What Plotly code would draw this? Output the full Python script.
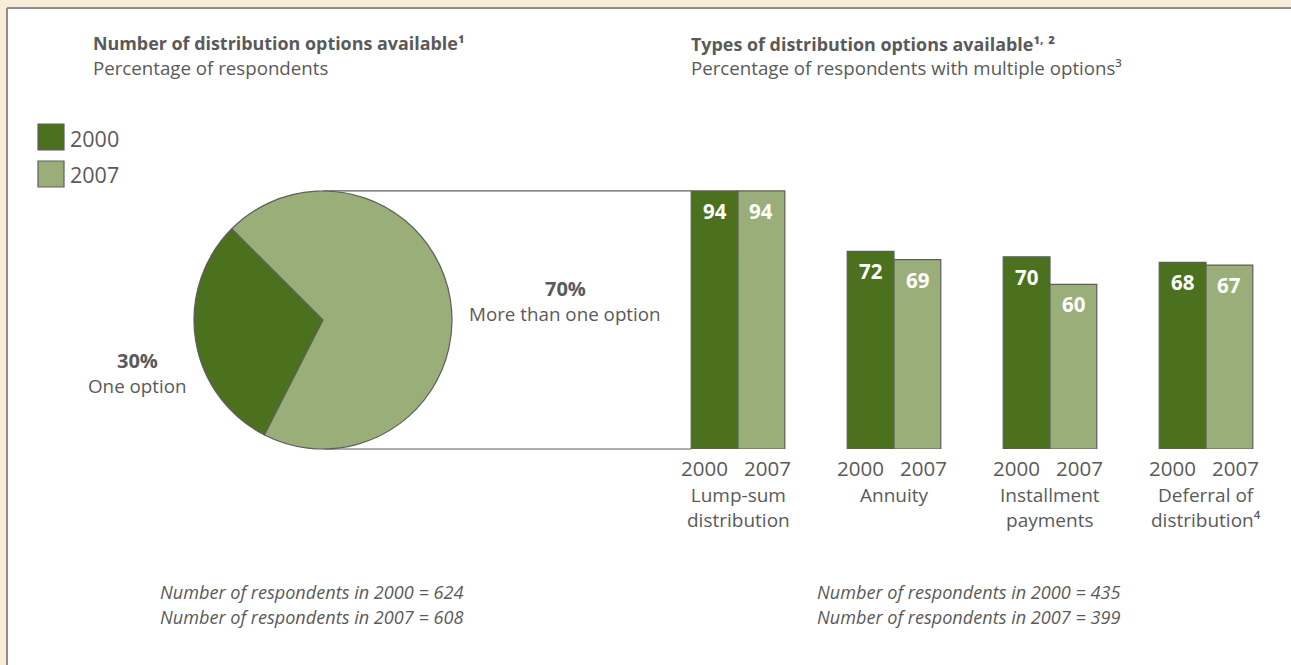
import plotly.graph_objects as go

# ---- data -------------------------------------------------------------
pie_labels = ["One option", "More than one option"]
pie_values = [30, 70]

categories = ["Lump-sum<br>distribution", "Annuity", "Installment<br>payments",
              "Deferral of<br>distribution⁴"]
years = ["2000", "2007"]
share_2000 = [94, 72, 70, 68]
share_2007 = [94, 69, 60, 67]

left_counts = [624, 608]
right_counts = [435, 399]

# ---- style ------------------------------------------------------------
W, H = 1291, 665
DARK = "#4b711f"
LIGHT = "#9aae7a"
EDGE = "#5e5e5e"
TEXT = "#5a5a5a"
BEIGE = "#f7ecd6"
FONT = "Open Sans"

def px(x):
    return x / W

def py(y):
    return 1 - y / H

BARGAP = 0.4
half_w = (1 - BARGAP) / 2  # width of a single bar in category units

# Bar axis geometry (paper fractions)
bar_x_domain = [px(660), px(1284)]
bar_y_domain = [py(449), py(174.5)]
y_max = 100

# Pie geometry
pie_x_domain = [px(194), px(452)]
pie_y_domain = [py(449), py(191)]

fig = go.Figure()

fig.add_trace(go.Pie(
    labels=pie_labels, values=pie_values, sort=False,
    direction="clockwise", rotation=-153,
    marker=dict(colors=[DARK, LIGHT], line=dict(color=EDGE, width=1.2)),
    textinfo="none", hoverinfo="label+percent",
    domain=dict(x=pie_x_domain, y=pie_y_domain), showlegend=False,
))

x_idx = list(range(len(categories)))
for name, vals, col in [(years[0], share_2000, DARK), (years[1], share_2007, LIGHT)]:
    fig.add_trace(go.Bar(
        x=x_idx, y=vals, name=name, marker=dict(color=col, line=dict(color=EDGE, width=1.2)),
        showlegend=False, hovertemplate="%{y}<extra>" + name + "</extra>",
    ))

annotations = []
# value labels inside the bars
for vals, off in [(share_2000, -half_w / 2), (share_2007, half_w / 2)]:
    for i, v in enumerate(vals):
        annotations.append(dict(
            x=i + off, y=v, xref="x", yref="y", text=f"<b>{v}</b>",
            showarrow=False, yanchor="top", yshift=-4,
            font=dict(family=FONT, size=20.5, color="white"),
        ))
# year labels under each pair, then the category names
for i, c in enumerate(categories):
    annotations.append(dict(
        x=i, y=0, xref="x", yref="y", text=years[0], showarrow=False,
        xanchor="right", yanchor="top", xshift=-8, yshift=-3,
        font=dict(family=FONT, size=20.5, color=TEXT),
    ))
    annotations.append(dict(
        x=i, y=0, xref="x", yref="y", text=years[1], showarrow=False,
        xanchor="left", yanchor="top", xshift=4, yshift=-3,
        font=dict(family=FONT, size=20.5, color=TEXT),
    ))
    annotations.append(dict(
        x=i, y=0, xref="x", yref="y", text=c, showarrow=False,
        yanchor="top", yshift=-31, align="center",
        font=dict(family=FONT, size=19, color=TEXT),
    ))

# titles
annotations += [
    dict(x=px(93), y=py(43), text="<b>Number of distribution options available¹</b>",
         font=dict(size=17.9)),
    dict(x=px(93), y=py(67), text="Percentage of respondents", font=dict(size=18.7)),
    dict(x=px(691), y=py(43), text="<b>Types of distribution options available¹<sup>,</sup> ²</b>",
         font=dict(size=17.9)),
    dict(x=px(691), y=py(67), text="Percentage of respondents with multiple options³",
         font=dict(size=18.7)),
]
for a in annotations[-4:]:
    a.update(xref="paper", yref="paper", xanchor="left", yanchor="middle",
             showarrow=False, xshift=-2)
    a["font"].update(family=FONT, color=TEXT)

# pie slice labels
annotations += [
    dict(x=px(137), y=py(360), text=f"<b>{pie_values[0]}%</b>", font=dict(size=20)),
    dict(x=px(137), y=py(386), text=pie_labels[0], font=dict(size=18.8)),
    dict(x=px(565), y=py(288), text=f"<b>{pie_values[1]}%</b>", font=dict(size=20)),
    dict(x=px(565), y=py(314), text=pie_labels[1], font=dict(size=18.8)),
]
for a in annotations[-4:]:
    a.update(xref="paper", yref="paper", xanchor="center", yanchor="middle", showarrow=False)
    a["font"].update(family=FONT, color=TEXT)

# white panel with grey top/left border (drawn first so everything sits on it)
shapes = [
    dict(type="rect", xref="paper", yref="paper", x0=px(7), x1=1, y0=0, y1=py(8),
         fillcolor="white", line=dict(width=0), layer="below"),
    dict(type="line", xref="paper", yref="paper", x0=px(7), x1=1, y0=py(8), y1=py(8),
         line=dict(color="#8c8c8c", width=2), layer="below"),
    dict(type="line", xref="paper", yref="paper", x0=px(7), x1=px(7), y0=0, y1=py(8),
         line=dict(color="#8c8c8c", width=2), layer="below"),
]

# legend
for k, (yr, col) in enumerate([(years[0], DARK), (years[1], LIGHT)]):
    top = 124 + 37 * k
    shapes.append(dict(type="rect", xref="paper", yref="paper",
                       x0=px(38), x1=px(64), y0=py(top + 26), y1=py(top),
                       fillcolor=col, line=dict(color=EDGE, width=1.2)))
    annotations.append(dict(x=px(68), y=py(top + 14), xref="paper", yref="paper",
                            text=yr, showarrow=False, xanchor="left", yanchor="middle",
                            font=dict(family=FONT, size=21.5, color=TEXT)))

# respondent counts
for x0, counts in [(160, left_counts), (817, right_counts)]:
    for k, (yr, n) in enumerate(zip(years, counts)):
        annotations.append(dict(
            x=px(x0), y=py(592 + 25 * k), xref="paper", yref="paper",
            text=f"<i>Number of respondents in {yr} = {n}</i>", showarrow=False,
            xanchor="left", yanchor="middle", xshift=-2,
            font=dict(family=FONT, size=18.1, color=TEXT)))

# connector from the pie to the lump-sum bars
pie_cx = (pie_x_domain[0] + pie_x_domain[1]) / 2
bar_left = bar_x_domain[0] + (bar_x_domain[1] - bar_x_domain[0]) * (0.5 - half_w) / 4
y_top = bar_y_domain[0] + (bar_y_domain[1] - bar_y_domain[0]) * share_2000[0] / y_max
for yy in [pie_y_domain[0], y_top]:
    shapes.append(dict(type="line", xref="paper", yref="paper",
                       x0=pie_cx, x1=bar_left, y0=yy, y1=yy,
                       line=dict(color=EDGE, width=1.2), layer="below"))

fig.update_layout(
    width=W, height=H, margin=dict(l=0, r=0, t=0, b=0),
    paper_bgcolor=BEIGE, plot_bgcolor="rgba(0,0,0,0)",
    barmode="group", bargap=BARGAP, bargroupgap=0,
    xaxis=dict(domain=bar_x_domain, range=[-0.5, 3.5], visible=False, fixedrange=True),
    yaxis=dict(domain=bar_y_domain, range=[0, y_max], visible=False, fixedrange=True),
    annotations=annotations, shapes=shapes,
    font=dict(family=FONT, color=TEXT),
)

fig.write_html("out.html")
